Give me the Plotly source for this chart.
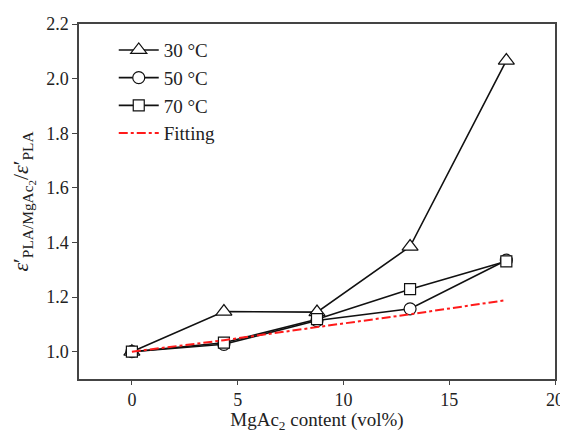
import plotly.graph_objects as go

x_content = [0, 4.35, 8.75, 13.15, 17.7]
y_30 = [1.0, 1.147, 1.145, 1.385, 2.066]
y_50 = [1.0, 1.027, 1.114, 1.157, 1.335]
y_70 = [1.0, 1.033, 1.119, 1.229, 1.331]
y_fit = [1.0, 1.042, 1.090, 1.137, 1.189]

x_ticks = [0, 5, 10, 15, 20]
y_ticks = [1.0, 1.2, 1.4, 1.6, 1.8, 2.0, 2.2]

FONT = "Liberation Serif, Times New Roman, serif"

fig = go.Figure()
series = [("30 °C", y_30, "triangle-up", 14),
          ("50 °C", y_50, "circle", 12),
          ("70 °C", y_70, "square", 11)]
for name, ys, sym, sz in series:
    fig.add_trace(go.Scatter(
        x=x_content, y=ys, name=name, mode="lines+markers",
        line=dict(color="#111", width=1.6),
        marker=dict(symbol=sym, size=sz, color="white",
                    line=dict(color="#111", width=1.2)),
    ))
fig.add_trace(go.Scatter(
    x=x_content, y=y_fit, name="Fitting", mode="lines",
    line=dict(color="#ff1a1a", width=2, dash="dashdot"),
))

fig.update_layout(
    width=560, height=425,
    margin=dict(l=71, r=13, t=16, b=54),
    paper_bgcolor="white", plot_bgcolor="white",
    font=dict(family=FONT, size=18, color="#222"),
    showlegend=True,
    legend=dict(x=0.073, y=0.98, xanchor="left", yanchor="top",
                bgcolor="rgba(0,0,0,0)", font=dict(size=19),
                tracegroupgap=0, itemwidth=40),
    xaxis=dict(range=[-2.5, 20], tickvals=x_ticks, ticks="outside",
               ticklen=4, tickcolor="#444", showline=True, linecolor="#444",
               linewidth=1.5, mirror=True, showgrid=False, zeroline=False,
               automargin=False,
               title=dict(text="MgAc<sub>2</sub> content (vol%)",
                          font=dict(size=19), standoff=9)),
    yaxis=dict(range=[0.9, 2.2], tickvals=y_ticks, tickformat=".1f",
               ticks="outside", ticklen=5, tickcolor="#444", showline=True,
               linecolor="#444", linewidth=1.5, mirror=True, showgrid=False,
               zeroline=False, automargin=False,
               title=dict(text="<i>ε</i>′<sub>PLA/MgAc<sub>2</sub></sub>/<i>ε</i>′<sub>PLA</sub>",
                          font=dict(size=22), standoff=14)),
)

fig.write_html("out.html")
